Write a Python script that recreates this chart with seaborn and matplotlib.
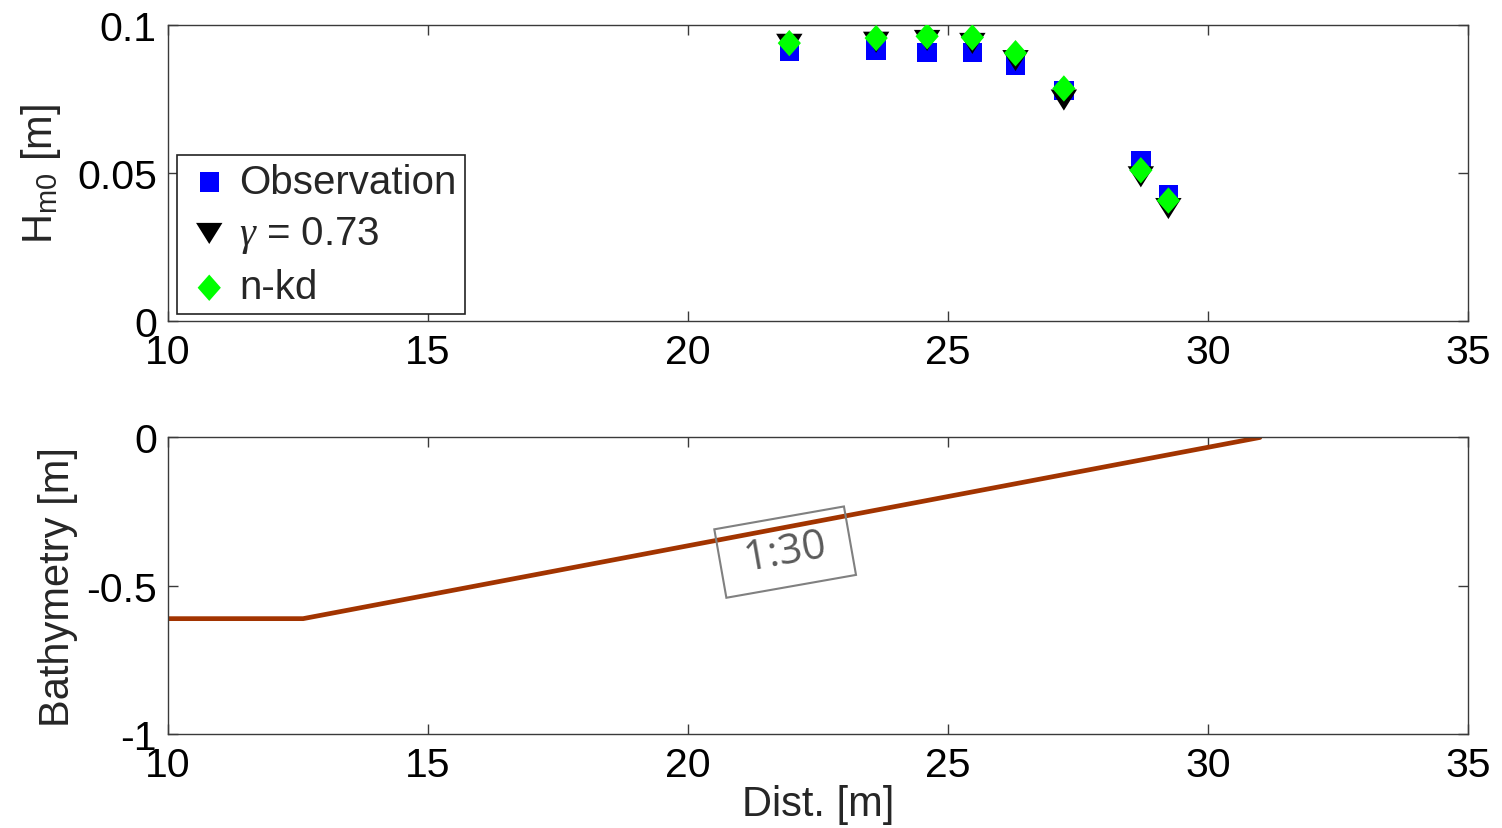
import numpy as np
import pandas as pd
import matplotlib
matplotlib.use("Agg")
import matplotlib.pyplot as plt
import seaborn as sns

# ---- data ----
dist_obs = [21.95, 23.62, 24.60, 25.47, 26.30, 27.23, 28.71, 29.24]
hm0_obs = [0.0912, 0.0916, 0.0908, 0.0908, 0.0863, 0.0780, 0.0543, 0.0429]
hm0_gamma = [0.0935, 0.0942, 0.0948, 0.0938, 0.0880, 0.0747, 0.0488, 0.0381]
hm0_nkd = [0.0939, 0.0956, 0.0962, 0.0958, 0.0905, 0.0786, 0.0510, 0.0408]

bathy_x = [10.0, 12.6, 31.0]
bathy_y = [-0.61, -0.61, 0.0]

x_ticks = [10, 15, 20, 25, 30, 35]
top_yticks = [0, 0.05, 0.1]
top_yticklabels = ["0", "0.05", "0.1"]
bot_yticks = [-1, -0.5, 0]
bot_yticklabels = ["-1", "-0.5", "0"]

labels = ["Observation", r"$\gamma$ = 0.73", "n-kd"]

# ---- style ----
sns.set_theme(style="white")
plt.rcParams["font.family"] = ["Liberation Sans", "DejaVu Sans"]
plt.rcParams["mathtext.fontset"] = "custom"
plt.rcParams["mathtext.rm"] = "Liberation Sans"
plt.rcParams["mathtext.it"] = "Liberation Serif:italic"
plt.rcParams["axes.unicode_minus"] = False
FS = 30
TFS = 29.5
spine_c = "#3a3a3a"

fig = plt.figure(figsize=(15.02, 8.29), dpi=100)
ax1 = fig.add_axes([0.1118, 0.611, 0.8655, 0.3576])
ax2 = fig.add_axes([0.1118, 0.1128, 0.8655, 0.3583])

tri = [(-1, 0.8), (1, 0.8), (0, -0.8)]
dia = [(0, 1), (0.88, 0), (0, -1), (-0.88, 0)]

df = pd.DataFrame({"x": dist_obs, "obs": hm0_obs, "gam": hm0_gamma, "nkd": hm0_nkd})
sns.scatterplot(data=df, x="x", y="obs", marker="s", s=14 ** 2, color="#0000ff",
                edgecolor="none", ax=ax1, label=labels[0], zorder=3)
sns.scatterplot(data=df, x="x", y="gam", marker=tri, s=19 ** 2, color="#000000",
                edgecolor="none", ax=ax1, label=labels[1], zorder=4)
sns.scatterplot(data=df, x="x", y="nkd", marker=dia, s=19 ** 2, color="#00ff00",
                edgecolor="none", ax=ax1, label=labels[2], zorder=5)

ax1.set_xlim(10, 35)
ax1.set_ylim(0, 0.1)
ax1.set_xticks(x_ticks)
ax1.set_xticklabels([str(t) for t in x_ticks])
ax1.set_yticks(top_yticks)
ax1.set_yticklabels(top_yticklabels)
ax1.set_xlabel("")
ax1.set_ylabel(r"H$_{\mathregular{m0}}$ [m]", fontsize=FS, labelpad=10)

leg = ax1.legend(loc="lower left", bbox_to_anchor=(0.007, 0.024), fontsize=29,
                 frameon=True, fancybox=False, framealpha=1, edgecolor="#222222",
                 handletextpad=0.15, handlelength=1.2, labelspacing=0.33,
                 borderpad=0.2, borderaxespad=0.0)
leg.get_frame().set_linewidth(1.2)

bdf = pd.DataFrame({"x": bathy_x, "y": bathy_y})
sns.lineplot(data=bdf, x="x", y="y", color="#a23400", linewidth=3.4, ax=ax2,
             estimator=None, sort=False)
ax2.set_xlim(10, 35)
ax2.set_ylim(-1, 0)
ax2.set_xticks(x_ticks)
ax2.set_xticklabels([str(t) for t in x_ticks])
ax2.set_yticks(bot_yticks)
ax2.set_yticklabels(bot_yticklabels)
ax2.set_xlabel("Dist. [m]", fontsize=FS, labelpad=0)
ax2.set_ylabel("Bathymetry [m]", fontsize=FS, labelpad=6)

ax2.text(21.87, -0.386, " 1:30 ", rotation=10, ha="center", va="center",
         fontsize=30, color="#5a5a5a", family=["Open Sans", "DejaVu Sans"],
         rotation_mode="anchor",
         bbox=dict(boxstyle="square,pad=0.33", fc="none", ec="#808080", lw=1.5))

for ax in (ax1, ax2):
    for sp in ax.spines.values():
        sp.set_visible(True)
        sp.set_color(spine_c)
        sp.set_linewidth(1.0)
    ax.tick_params(direction="in", length=7, width=1.0, color=spine_c,
                   top=True, right=True, bottom=True, left=True,
                   labelsize=TFS, pad=8, labelcolor="black")
    ax.grid(False)

fig.savefig("out.png", dpi=100, facecolor="white")
